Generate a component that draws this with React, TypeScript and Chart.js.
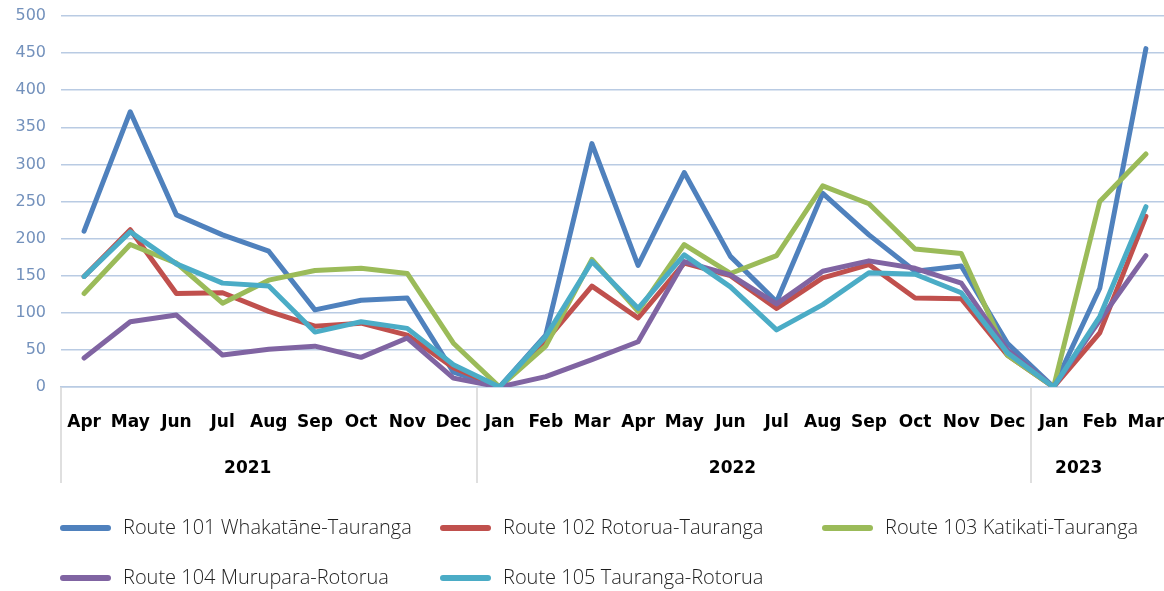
import React, { useEffect, useRef } from "react";
import { Chart, registerables } from "chart.js";

Chart.register(...registerables);

const months = [
  "Apr", "May", "Jun", "Jul", "Aug", "Sep", "Oct", "Nov", "Dec",
  "Jan", "Feb", "Mar", "Apr", "May", "Jun", "Jul", "Aug", "Sep", "Oct", "Nov", "Dec",
  "Jan", "Feb", "Mar",
];
const years = ["2021", "2022", "2023"];
const yearMonthCounts = [9, 12, 3];

const seriesNames = [
  "Route 101 Whakatāne-Tauranga",
  "Route 102 Rotorua-Tauranga",
  "Route 103 Katikati-Tauranga",
  "Route 104 Murupara-Rotorua",
  "Route 105 Tauranga-Rotorua",
];
const seriesColors = ["#4f81bd", "#c0504d", "#9bbb59", "#8064a2", "#4bacc6"];

const route101 = [210, 371, 232, 205, 183, 104, 117, 120, 20, 0, 70, 328, 164, 289, 176, 115, 261, 205, 156, 163, 59, 0, 133, 456];
const route102 = [149, 212, 126, 127, 102, 82, 86, 70, 26, 0, 62, 136, 93, 167, 150, 106, 147, 165, 120, 119, 43, 0, 73, 230];
const route103 = [126, 192, 167, 113, 144, 157, 160, 153, 59, 0, 55, 172, 102, 192, 153, 177, 271, 247, 186, 180, 43, 0, 250, 314];
const route104 = [39, 88, 97, 43, 51, 55, 40, 66, 12, 0, 14, 37, 61, 169, 151, 112, 156, 170, 160, 140, 50, 0, 90, 177];
const route105 = [149, 209, 166, 140, 136, 74, 88, 79, 30, 0, 68, 169, 106, 178, 135, 77, 111, 154, 152, 127, 46, 0, 95, 243];

const seriesValues = [route101, route102, route103, route104, route105];

const yTicks = { min: 0, max: 500, step: 50 };

const groupPlugin = {
  id: "groupAxisAndLegend",
  afterDraw(chart: any) {
    const ctx = chart.ctx;
    const x = chart.scales.x;
    const area = chart.chartArea;
    const half = (x.getPixelForValue(1) - x.getPixelForValue(0)) / 2;
    ctx.save();
    ctx.strokeStyle = "#d4d4d4";
    ctx.lineWidth = 1.5;
    let idx = 0;
    const bounds: number[] = [0];
    yearMonthCounts.forEach((c) => {
      idx += c;
      bounds.push(idx);
    });
    bounds.forEach((b, i) => {
      if (i === bounds.length - 1) return;
      const px = Math.round(x.getPixelForValue(b) - half);
      ctx.beginPath();
      ctx.moveTo(px, area.bottom);
      ctx.lineTo(px, area.bottom + 96);
      ctx.stroke();
    });
    ctx.fillStyle = "#000";
    ctx.font = "bold 17px 'DejaVu Sans'";
    ctx.textAlign = "center";
    ctx.textBaseline = "middle";
    years.forEach((yr, i) => {
      const a = x.getPixelForValue(bounds[i]);
      const b = x.getPixelForValue(bounds[i + 1] - 1);
      ctx.fillText(yr, (a + b) / 2 - 21, area.bottom + 82);
    });
    const cols = [60, 440, 822];
    const rows = [528, 578];
    ctx.font = "300 20px 'Open Sans'";
    ctx.textAlign = "left";
    seriesNames.forEach((name, i) => {
      const cx = cols[i % 3];
      const cy = rows[Math.floor(i / 3)];
      ctx.strokeStyle = seriesColors[i];
      ctx.lineWidth = 6;
      ctx.lineCap = "round";
      ctx.beginPath();
      ctx.moveTo(cx + 3, cy);
      ctx.lineTo(cx + 48, cy);
      ctx.stroke();
      ctx.fillStyle = "#1f1f1f";
      ctx.fillText(name, cx + 63, cy);
    });
    ctx.restore();
  },
};

export default function App() {
  const ref = useRef<HTMLCanvasElement>(null);
  useEffect(() => {
    if (!ref.current) return;
    const chart = new Chart(ref.current, {
      type: "line",
      data: {
        labels: months,
        datasets: seriesValues.map((vals, i) => ({
          label: seriesNames[i],
          data: vals,
          borderColor: seriesColors[i],
          backgroundColor: seriesColors[i],
          borderWidth: 5,
          pointRadius: 0,
          tension: 0,
          borderJoinStyle: "round" as const,
          borderCapStyle: "round" as const,
          order: seriesValues.length - i,
        })),
      },
      options: {
        animation: false,
        responsive: false,
        maintainAspectRatio: false,
        layout: { padding: { top: 16, right: 3, left: 0, bottom: 0 } },
        plugins: { legend: { display: false }, tooltip: { enabled: false } },
        scales: {
          x: {
            type: "category",
            offset: true,
            grid: { display: false },
            border: { display: true, color: "#b9cbe3", width: 1.5 },
            ticks: {
              autoSkip: false,
              maxRotation: 0,
              minRotation: 0,
              color: "#000",
              font: { family: "'DejaVu Sans'", size: 17, weight: "bold" },
              padding: 17,
            },
            afterFit: (s: any) => {
              s.height = 204;
              s.paddingLeft = 0;
              s.paddingRight = 0;
            },
          },
          y: {
            min: yTicks.min,
            max: yTicks.max,
            grid: { color: "#b9cbe3", lineWidth: 1.5, drawTicks: false },
            border: { display: false },
            ticks: {
              stepSize: yTicks.step,
              color: "#7391bc",
              font: { family: "'DejaVu Sans'", size: 16 },
              padding: 15,
            },
            afterFit: (s: any) => {
              s.width = 61;
              s.paddingTop = 0;
              s.paddingBottom = 0;
            },
          },
        },
      },
      plugins: [groupPlugin],
    });
    return () => chart.destroy();
  }, []);
  return (
    <div style={{ position: "fixed", left: 0, top: 0, width: 1164, height: 591, overflow: "hidden", background: "#fff" }}>
      <canvas ref={ref} width={1172} height={591} style={{ display: "block", width: 1172, height: 591 }} />
    </div>
  );
}
